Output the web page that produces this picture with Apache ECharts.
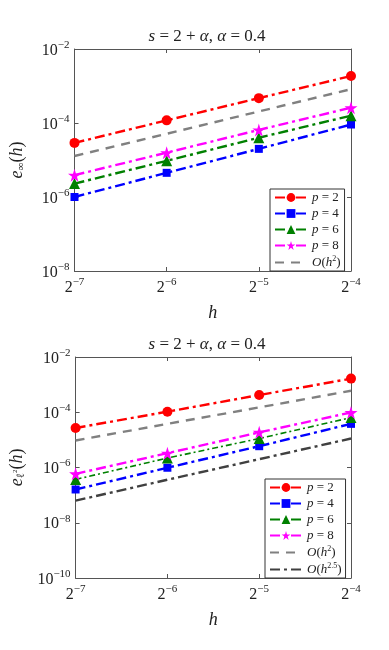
<!DOCTYPE html>
<html>
<head>
<meta charset="utf-8">
<script src="https://cdn.jsdelivr.net/npm/echarts@6/dist/echarts.min.js"></script>
<style>
html, body { margin: 0; padding: 0; background: #fff; }
#chart { width: 389px; height: 650px; }
</style>
</head>
<body>
<div id="chart"></div>
<script>
// step sizes h = 2^-7 .. 2^-4
var hValues = [0.0078125, 0.015625, 0.03125, 0.0625]

// top panel: max-norm error
var infP2 = [2.9e-5, 1.18e-4, 4.7e-4, 1.86e-3]
var infP4 = [1.0e-6, 4.5e-6, 2.0e-5, 9.1e-5]
var infP6 = [2.3e-6, 9.5e-6, 4.0e-5, 1.58e-4]
var infP8 = [3.9e-6, 1.58e-5, 6.5e-5, 2.6e-4]
var infRef2 = [1.28e-5, 5.1e-5, 2.05e-4, 8.2e-4]

// bottom panel: l2 error
var l2P2 = [2.7e-5, 1.05e-4, 4.2e-4, 1.65e-3]
var l2P4 = [1.6e-7, 9.8e-7, 5.9e-6, 3.8e-5]
var l2P6 = [3.7e-7, 2.2e-6, 1.12e-5, 6.4e-5]
var l2P8 = [5.9e-7, 3.3e-6, 1.87e-5, 9.8e-5]
var l2Ref2 = [9.5e-6, 3.8e-5, 1.5e-4, 6.0e-4]
var l2Ref25 = [6.3e-8, 3.6e-7, 2.0e-6, 1.12e-5]

var panelTitle = '{i|s} = 2 + {i|α}, {i|α} = 0.4'
var legendLabels = {
  'p = 2': '{i|p} = 2',
  'p = 4': '{i|p} = 4',
  'p = 6': '{i|p} = 6',
  'p = 8': '{i|p} = 8',
  'O(h^2)': '{i|O}({i|h}{sup|2})',
  'O(h^2.5)': '{i|O}({i|h}{sup|2.5})'
}

var FONT = 'Liberation Serif'
var AXIS_COLOR = '#555'
var STAR = 'path://M50,0 L61,35 L98,35 L68,57 L79,91 L50,70 L21,91 L32,57 L2,35 L39,35 Z'
var DASHDOT = [10, 4, 3, 4]

var richText = {
  i: { fontFamily: FONT, fontStyle: 'italic', fontSize: 13, color: '#222' },
  sup: { fontFamily: FONT, fontSize: 8, color: '#222', padding: [0, 0, 7, 0] },
  n: { fontFamily: FONT, fontSize: 13, color: '#222' }
}

function powLabel(base, v) {
  var e = Math.round(Math.log(v) / Math.log(base))
  return '{b|' + base + '}{s|' + (e < 0 ? '\u2212' : '') + Math.abs(e) + '}'
}

var tickRich = {
  b: { fontFamily: FONT, fontSize: 16, color: '#222', verticalAlign: 'bottom' },
  s: { fontFamily: FONT, fontSize: 11, color: '#222', verticalAlign: 'bottom', padding: [0, 0, 8, 0] }
}

function xAxes(gridIndex) {
  return [{
    type: 'log', logBase: 2, gridIndex: gridIndex,
    min: hValues[0], max: hValues[3], interval: 1,
    name: 'h', nameLocation: 'middle', nameGap: 33,
    nameTextStyle: { fontFamily: FONT, fontStyle: 'italic', fontSize: 18, color: '#222' },
    axisLine: { lineStyle: { color: AXIS_COLOR } },
    axisTick: { inside: true, length: 4, lineStyle: { color: AXIS_COLOR } },
    axisLabel: { margin: 6, formatter: function (v) { return powLabel(2, v) }, rich: tickRich },
    splitLine: { show: false }
  }, {
    type: 'log', logBase: 2, gridIndex: gridIndex, position: 'top',
    min: hValues[0], max: hValues[3], interval: 1,
    axisLine: { lineStyle: { color: AXIS_COLOR } },
    axisTick: { inside: true, length: 4, lineStyle: { color: AXIS_COLOR } },
    axisLabel: { show: false },
    splitLine: { show: false }
  }]
}

function yAxes(gridIndex, min, nameText) {
  return [{
    type: 'log', logBase: 10, gridIndex: gridIndex,
    min: min, max: 1e-2, interval: 2,
    name: nameText, nameLocation: 'middle', nameGap: 48, nameRotate: 90,
    nameTextStyle: {
      fontFamily: FONT, fontSize: 16, color: '#222',
      rich: {
        i: { fontFamily: FONT, fontStyle: 'italic', fontSize: 18, color: '#222' },
        n: { fontFamily: FONT, fontSize: 18, color: '#222' },
        sub: { fontFamily: FONT, fontSize: 11, color: '#222', padding: [8, 0, 0, 0] },
        sub2: { fontFamily: FONT, fontSize: 7, color: '#222', padding: [0, 0, 4, 0] }
      }
    },
    axisLine: { lineStyle: { color: AXIS_COLOR } },
    axisTick: { inside: true, length: 4, lineStyle: { color: AXIS_COLOR } },
    axisLabel: { margin: 5, formatter: function (v) { return powLabel(10, v) }, rich: tickRich },
    splitLine: { show: false }
  }, {
    type: 'log', logBase: 10, gridIndex: gridIndex, position: 'right',
    min: min, max: 1e-2, interval: 2,
    axisLine: { lineStyle: { color: AXIS_COLOR } },
    axisTick: { inside: true, length: 4, lineStyle: { color: AXIS_COLOR } },
    axisLabel: { show: false },
    splitLine: { show: false }
  }]
}

function pairs(ys) {
  return hValues.map(function (h, i) { return [h, ys[i]] })
}

function markSeries(name, ys, color, symbol, size, axisIdx, width, dash) {
  return {
    name: name, type: 'line', data: pairs(ys),
    xAxisIndex: axisIdx, yAxisIndex: axisIdx,
    symbol: symbol, symbolSize: size, showSymbol: true,
    itemStyle: { color: color },
    lineStyle: { color: color, width: width || 2.4, type: dash || DASHDOT },
    animation: false, z: 3
  }
}

function refSeries(name, ys, color, axisIdx, dash) {
  return {
    name: name, type: 'line', data: pairs(ys),
    xAxisIndex: axisIdx, yAxisIndex: axisIdx,
    symbol: 'none',
    itemStyle: { color: color },
    lineStyle: { color: color, width: 2.4, type: dash },
    animation: false, z: 2
  }
}

function legendOf(pos, names) {
  return {
    orient: 'vertical', left: pos.left, top: pos.top,
    data: names.map(function (n) {
      // reference lines have no marker in the legend
      return n.charAt(0) === 'O' ? { name: n, itemStyle: { opacity: 0 } } : { name: n }
    }),
    backgroundColor: '#fff',
    borderColor: '#333', borderWidth: 1, borderRadius: 0,
    padding: [2, 4, 2, 4], itemGap: 3,
    itemWidth: 32, itemHeight: 11,
    formatter: function (name) { return legendLabels[name] },
    textStyle: { fontFamily: FONT, fontSize: 13, color: '#222', rich: richText }
  }
}

function richTitle() {
  return {
    i: { font: 'italic 17px ' + FONT, fill: '#222' }
  }
}

var chart = echarts.init(document.getElementById('chart'), null, { renderer: 'canvas' })

chart.setOption({
  backgroundColor: '#fff',
  animation: false,
  grid: [
    { left: 63, top: 49, width: 288, height: 222, show: false },
    { left: 63, top: 357, width: 288, height: 221, show: false }
  ],
  graphic: [
    { type: 'text', x: 207, y: 28, style: { text: panelTitle, rich: richTitle(), align: 'center', font: '17px ' + FONT, fill: '#222' } },
    { type: 'text', x: 207, y: 336, style: { text: panelTitle, rich: richTitle(), align: 'center', font: '17px ' + FONT, fill: '#222' } }
  ],
  xAxis: xAxes(0).concat(xAxes(1)),
  yAxis: yAxes(0, 1e-8, '{i|e}{sub|∞}{n|(}{i|h}{n|)}').concat(yAxes(1, 1e-10, '{i|e}{sub|ℓ}{sub2|2}{n|(}{i|h}{n|)}')),
  legend: [
    legendOf({ left: 270, top: 189 }, ['p = 2', 'p = 4', 'p = 6', 'p = 8', 'O(h^2)']),
    legendOf({ left: 265, top: 479 }, ['p = 2', 'p = 4', 'p = 6', 'p = 8', 'O(h^2)', 'O(h^2.5)'])
  ],
  series: [
    markSeries('p = 2', infP2, '#ff0000', 'circle', 10, 0),
    markSeries('p = 4', infP4, '#0000ff', 'rect', 8, 0),
    markSeries('p = 6', infP6, '#008000', 'triangle', 11, 0),
    markSeries('p = 8', infP8, '#ff00ff', STAR, 13, 0),
    refSeries('O(h^2)', infRef2, '#808080', 0, [9, 7]),

    markSeries('p = 2', l2P2, '#ff0000', 'circle', 10, 2),
    markSeries('p = 4', l2P4, '#0000ff', 'rect', 8, 2),
    markSeries('p = 6', l2P6, '#008000', 'triangle', 11, 2, 1.6, [6, 3, 2, 3]),
    markSeries('p = 8', l2P8, '#ff00ff', STAR, 13, 2),
    refSeries('O(h^2)', l2Ref2, '#808080', 2, [9, 7]),
    refSeries('O(h^2.5)', l2Ref25, '#404040', 2, DASHDOT)
  ]
})
</script>
</body>
</html>
